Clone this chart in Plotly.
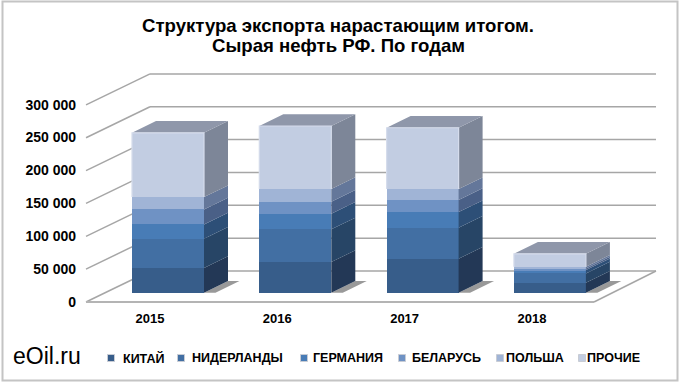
import plotly.graph_objects as go

years = ["2015", "2016", "2017", "2018"]
series_names = ["КИТАЙ", "НИДЕРЛАНДЫ", "ГЕРМАНИЯ", "БЕЛАРУСЬ", "ПОЛЬША", "ПРОЧИЕ"]
kitai = [37500, 46700, 51700, 15200]
niderlandy = [44600, 49700, 47200, 14200]
germania = [21800, 23800, 23800, 5000]
belarus = [22800, 18300, 18300, 2500]
polsha = [18800, 19300, 16700, 2500]
prochie = [97900, 95900, 93400, 19800]
series_values = [kitai, niderlandy, germania, belarus, polsha, prochie]
front_colors = ["#375d8a", "#426fa3", "#487cb6", "#6f92c4", "#a0b4d6", "#c2cde2"]
side_colors = ["#233856", "#274566", "#2d4f77", "#4a6087", "#64779a", "#7d8698"]
top_color = "#8f97aa"
tick_values = [0, 50000, 100000, 150000, 200000, 250000, 300000]
tick_labels = ["0", "50 000", "100 000", "150 000", "200 000", "250 000", "300 000"]
legend_square_px = [111, 181, 304, 402, 500, 582]
legend_text_px = [123, 192, 313, 412, 506, 587]
title_lines = ["Структура экспорта нарастающим итогом.", "Сырая нефть РФ. По годам"]

W, H = 680, 384
PX_X = 127.3          # px per category
PX_Y = 0.657 / 1000   # px per unit value
X0_PX, Y0_PX = 168.0, 292.7
x_range = [-X0_PX / PX_X, (W - X0_PX) / PX_X]
y_range = [(Y0_PX - H) / PX_Y, Y0_PX / PX_Y]

bar_w = 72 / PX_X
bar_dx, bar_dy = 24 / PX_X, 11.7 / PX_Y
wall_left, wall_right = (150 - X0_PX) / PX_X, (656 - X0_PX) / PX_X
floor_left, floor_right = (86 - X0_PX) / PX_X, (594 - X0_PX) / PX_X
wall_base = (Y0_PX - 271) / PX_Y
floor_base = (Y0_PX - 302) / PX_Y
positions = list(range(len(years)))

fig = go.Figure()
for name, vals, col in zip(series_names, series_values, front_colors):
    fig.add_trace(go.Bar(x=positions, y=vals, name=name, width=bar_w, showlegend=False,
                         marker=dict(color=col, line=dict(width=0)), hoverinfo="y+name"))

bottoms = [0] * len(years)
for vals, col in zip(series_values, side_colors):
    xs, ys = [], []
    for i, v in enumerate(vals):
        r = i + bar_w / 2
        b = bottoms[i]
        xs += [r, r + bar_dx, r + bar_dx, r, r, None]
        ys += [b, b + bar_dy, b + v + bar_dy, b + v, b, None]
        bottoms[i] = b + v
    fig.add_trace(go.Scatter(x=xs, y=ys, mode="lines", fill="toself", fillcolor=col,
                             line=dict(width=0), showlegend=False, hoverinfo="skip"))
xs, ys = [], []
for i, t in enumerate(bottoms):
    l, r = i - bar_w / 2, i + bar_w / 2
    xs += [l, r, r + bar_dx, l + bar_dx, l, None]
    ys += [t, t, t + bar_dy, t + bar_dy, t, None]
fig.add_trace(go.Scatter(x=xs, y=ys, mode="lines", fill="toself", fillcolor=top_color,
                         line=dict(width=0), showlegend=False, hoverinfo="skip"))
# light edge round the top front segment
xs, ys = [], []
for i, t in enumerate(bottoms):
    l, r = i - bar_w / 2, i + bar_w / 2
    xs += [l, l, r, r, None]
    ys += [t - prochie[i], t, t, t - prochie[i], None]
fig.add_trace(go.Scatter(x=xs, y=ys, mode="lines", line=dict(width=1.2, color="#d5dcec"),
                         showlegend=False, hoverinfo="skip"))

shapes = []
grid = "#a6a6a6"
for t in tick_values:
    shapes.append(dict(type="line", xref="x", yref="y", layer="below",
                       x0=floor_left, x1=wall_left, y0=floor_base + t, y1=wall_base + t,
                       line=dict(color=grid, width=1.5)))
    shapes.append(dict(type="line", xref="x", yref="y", layer="below",
                       x0=wall_left, x1=wall_right, y0=wall_base + t, y1=wall_base + t,
                       line=dict(color=grid, width=1.5)))
shapes.append(dict(type="line", xref="x", yref="y", layer="below",
                   x0=floor_left, x1=floor_right, y0=floor_base, y1=floor_base,
                   line=dict(color="#b4b4b4", width=2.2)))
shapes.append(dict(type="line", xref="x", yref="y", layer="below",
                   x0=floor_right, x1=wall_right, y0=floor_base, y1=wall_base,
                   line=dict(color=grid, width=1.5)))
# floor shadows
for i in positions:
    r = i + bar_w / 2
    l = i - bar_w / 2
    shadow = f"M {l - 0.03} 0 L {r + 0.09} 0 L {r + bar_dx + 0.09} {bar_dy} L {r + bar_dx} {bar_dy} L {r} 0 Z"
    shapes.append(dict(type="path", xref="x", yref="y", layer="below", path=shadow,
                       fillcolor="rgba(70,70,70,0.55)", line=dict(width=0)))
# outer frame
shapes.append(dict(type="rect", xref="paper", yref="paper", layer="below",
                   x0=2.5 / W, x1=677.5 / W, y0=1 - 380.5 / H, y1=1 - 1.5 / H,
                   line=dict(color="#c4c4c4", width=2), fillcolor="rgba(0,0,0,0)"))

FONT = "Liberation Sans, Arial, sans-serif"
annotations = [
    dict(text="eOil.ru", xref="paper", yref="paper", x=11 / W, xanchor="left",
         y=1 - 356 / H, yanchor="middle", showarrow=False,
         font=dict(family=FONT, size=23, color="black")),
    dict(text=title_lines[1], xref="paper", yref="paper", x=338 / W, xanchor="center",
         y=1 - 45.5 / H, yanchor="middle", showarrow=False,
         font=dict(family=FONT, size=18.6, color="black", weight="bold")),
]
LEG_Y = 358
for name, col, sx, tx in zip(series_names, front_colors, legend_square_px, legend_text_px):
    shapes.append(dict(type="rect", xref="paper", yref="paper",
                       x0=(sx - 3.5) / W, x1=(sx + 3.5) / W,
                       y0=1 - (LEG_Y + 3.5) / H, y1=1 - (LEG_Y - 3.5) / H,
                       fillcolor=col, line=dict(color="#c8ccd4", width=1)))
    annotations.append(dict(text=name, xref="paper", yref="paper", x=tx / W, xanchor="left",
                            y=1 - LEG_Y / H, yanchor="middle", showarrow=False,
                            xshift=-2, font=dict(family=FONT, size=12.5, color="black", weight="bold")))

fig.update_layout(
    width=W, height=H, autosize=False,
    margin=dict(l=0, r=0, t=0, b=0),
    paper_bgcolor="white", plot_bgcolor="white",
    barmode="stack",
    showlegend=False,
    shapes=shapes,
    annotations=annotations,
    title=dict(text=title_lines[0],
               x=338 / W, xanchor="center", y=1 - 25 / H, yanchor="middle",
               font=dict(family=FONT, size=18.6, color="black", weight="bold")),
    xaxis=dict(range=x_range, tickmode="array",
               tickvals=[p - 18 / PX_X for p in positions], ticktext=years,
               anchor="free", position=1 - 309 / H, side="bottom",
               showgrid=False, zeroline=False, showline=False, ticks="",
               tickfont=dict(family=FONT, size=13, color="black", weight="bold")),
    yaxis=dict(range=y_range, tickmode="array",
               tickvals=[t - 9 / PX_Y for t in tick_values], ticktext=tick_labels,
               anchor="free", position=76 / W, side="left",
               showgrid=False, zeroline=False, showline=False, ticks="",
               tickfont=dict(family=FONT, size=14, color="black", weight="bold")),
)
fig.write_html("out.html", config={"displayModeBar": False},
               post_script="document.body.style.margin='0';")
